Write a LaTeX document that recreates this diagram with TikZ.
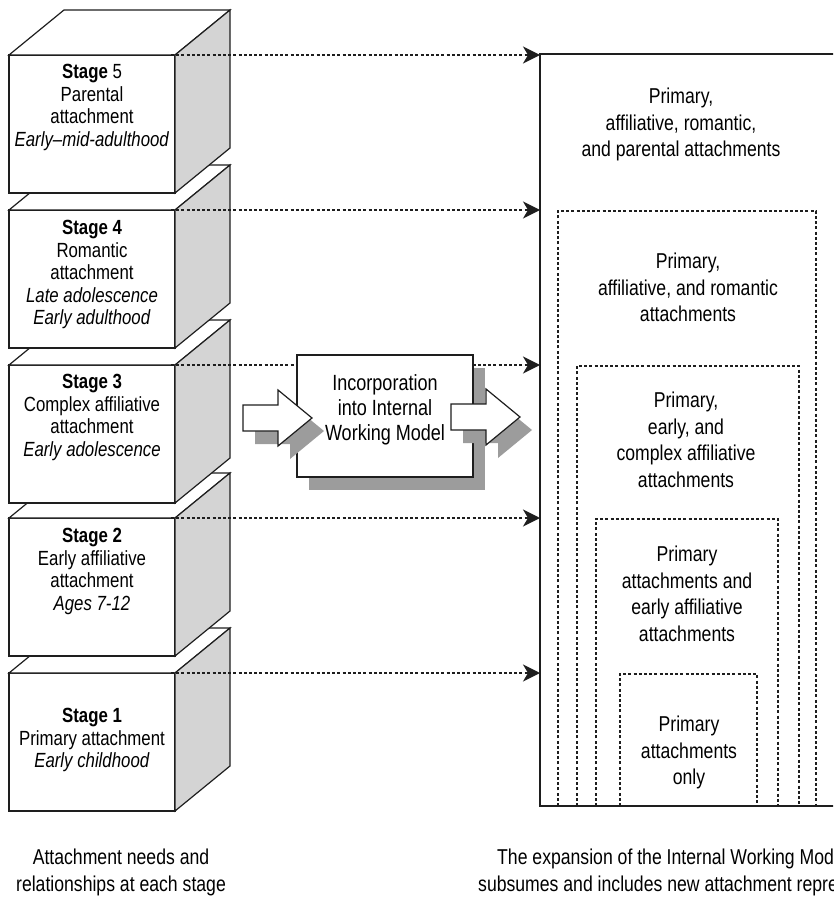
\documentclass[tikz,border=0pt]{standalone}
\usepackage{fontspec}
\setmainfont{Liberation Sans}[FakeStretch=0.82]
\usetikzlibrary{arrows.meta,calc}

\definecolor{sidegrey}{HTML}{D4D4D4}
\definecolor{shadowgrey}{HTML}{9C9C9C}
\definecolor{inkline}{HTML}{1E1E1E}

\begin{document}
\begin{tikzpicture}[x=1pt,y=-1pt,line join=miter,
  face/.style={draw=inkline, line width=1.2pt, fill=white, inner sep=0pt, outer sep=0pt},
  sideface/.style={draw=inkline, line width=1.2pt, fill=sidegrey},
  cubetext/.style={anchor=north, align=center, inner sep=0pt, font=\fontsize{20.5}{22.5}\selectfont},
  paneltext/.style={anchor=north, align=center, inner sep=0pt, font=\fontsize{21.5}{26.5}\selectfont},
  captiontext/.style={anchor=north west, inner sep=0pt, font=\fontsize{21.5}{27}\selectfont},
  link/.style={draw=inkline, line width=1.7pt, dash pattern=on 3pt off 2.2pt,
    -{Stealth[length=17pt,width=17pt,inset=5pt]}},
  frame/.style={draw=inkline, line width=1.7pt, dash pattern=on 3pt off 2.2pt},
  blockarrow/.pic={
    \fill[shadowgrey] (12,0) -- (47,0) -- (47,-15) -- (81,13) -- (47,41) -- (47,26) -- (12,26) -- cycle;
    \draw[face] (0,-13) -- (35,-13) -- (35,-28) -- (69,0) -- (35,28) -- (35,13) -- (0,13) -- cycle;
  },
]
\useasboundingbox (0,0) rectangle (833,901);
\clip (0,0) rectangle (833,901);

% stacked stage cubes, drawn from the bottom up so each one overlaps the one below
\foreach \n/\top in {1/673,2/518,3/365,4/210,5/55} {
  \node[face, minimum width=166pt, minimum height=138pt, anchor=north west] (s\n) at (9,\top) {};
  \draw[face] (s\n.north west) -- ++(55,-45) -- ++(166,0) -- (s\n.north east) -- cycle;
  \draw[sideface] (s\n.north east) -- ++(55,-45) -- ++(0,138) -- (s\n.south east) -- cycle;
}

\node[cubetext] (t5) at (92,64) {\textbf{Stage} 5\\Parental\\attachment\\\textit{Early--mid-adulthood}};
\node[cubetext] (t4) at (92,220) {\textbf{Stage 4}\\Romantic\\attachment\\\textit{Late adolescence}\\\textit{Early adulthood}};
\node[cubetext] (t3) at (92,374) {\textbf{Stage 3}\\Complex affiliative\\attachment\\\textit{Early adolescence}};
\node[cubetext] (t2) at (92,528) {\textbf{Stage 2}\\Early affiliative\\attachment\\\textit{Ages 7-12}};
\node[cubetext] (t1) at (92,708) {\textbf{Stage 1}\\Primary attachment\\\textit{Early childhood}};

% nested representation panels
\coordinate (p1) at (540,54);
\coordinate (p2) at (558,211);
\coordinate (p3) at (577,366);
\coordinate (p4) at (596,519);
\coordinate (p5) at (620,674);
\def\panelbottom{806}
\draw[draw=inkline, line width=1.5pt] (845,54) -- (p1) -- (540,\panelbottom) -- (845,\panelbottom);
\draw[frame] (558,\panelbottom) -- (p2) -- (816,211) -- (816,\panelbottom);
\draw[frame] (577,\panelbottom) -- (p3) -- (799,366) -- (799,\panelbottom);
\draw[frame] (596,\panelbottom) -- (p4) -- (778,519) -- (778,\panelbottom);
\draw[frame] (620,\panelbottom) -- (p5) -- (757,674) -- (757,\panelbottom);

\node[paneltext] (r1) at (681,88) {Primary,\\affiliative, romantic,\\and parental attachments};
\node[paneltext] (r2) at (688,253) {Primary,\\affiliative, and romantic\\attachments};
\node[paneltext] (r3) at (686,392) {Primary,\\early, and\\complex affiliative\\attachments};
\node[paneltext] (r4) at (687,546) {Primary\\attachments and\\early affiliative\\attachments};
\node[paneltext] (r5) at (689,716) {Primary\\attachments\\only};

% dotted links from each stage to its panel
\foreach \n in {1,...,5} {
  \draw[link] ($(s\n.north east)+(-4,0)$) -- (s\n.north east -| p1);
}

% incorporation box with shadow and block arrows
\node[face, minimum width=176pt, minimum height=122pt] (iwm) at (385,416) {};
\fill[shadowgrey] ($(iwm.north west)+(12,13)$) rectangle ($(iwm.south east)+(12,13)$);
\node[face, minimum width=176pt, minimum height=122pt] at (iwm) {};
\node[anchor=north, align=center, inner sep=0pt, font=\fontsize{22}{25}\selectfont] (iwmt) at (385,374)
  {Incorporation\\into Internal\\Working Model};
\pic at (243,418) {blockarrow};
\pic at (451,417) {blockarrow};

% captions
\node[paneltext, font=\fontsize{21.5}{27}\selectfont] (capl) at (121,849) {Attachment needs and\\relationships at each stage};
\node[captiontext] (capr1) at (497,849) {The expansion of the Internal Working Model};
\node[captiontext] (capr2) at (478,876) {subsumes and includes new attachment representations};
\end{tikzpicture}
\end{document}
